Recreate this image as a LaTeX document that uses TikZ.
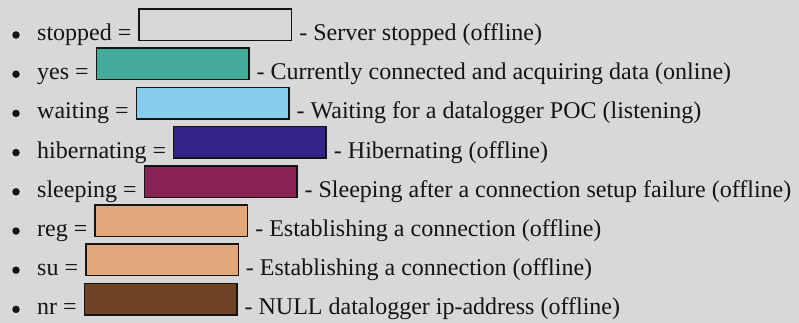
\documentclass[tikz,border=0pt]{standalone}
\usepackage{fontspec}
\setmainfont{Liberation Serif}
\usepackage{tikz}
\usetikzlibrary{
    positioning
}
\definecolor{PageGrey}{RGB}{216,216,216}
\definecolor{InkBlack}{RGB}{20,20,20}
\definecolor{StateYes}{HTML}{44AA99}
\definecolor{StateWaiting}{HTML}{88CCEE}
\definecolor{StateHibernating}{HTML}{332288}
\definecolor{StateSleeping}{HTML}{882255}
\definecolor{StateSetup}{HTML}{E2A87A}
\definecolor{StateNull}{HTML}{6E4424}

\begin{document}
\begin{tikzpicture}[
    x=1pt, y=-1pt,
    statename/.style={inner sep=0pt, anchor=base west, text=InkBlack, font=\fontsize{24pt}{29pt}\selectfont},
    note/.style={inner sep=0pt, anchor=base west, xshift=6.75pt, text=InkBlack, font=\fontsize{24pt}{29pt}\selectfont},
    swatch/.style={rectangle, draw=InkBlack, line width=1.5pt, minimum width=152.5pt, minimum height=31.5pt, inner sep=0pt, anchor=south west, xshift=6.75pt, yshift=-0.75pt},
    dot/.style={circle, fill=InkBlack, inner sep=0pt, minimum size=7.5pt}
]
\fill[PageGrey] (0,0) rectangle (799,323);
\useasboundingbox (0,0) rectangle (799,323);

% stopped
\node[dot] (b1) at (16,35) {};
\node[statename] (n1) at (37,40.5) {stopped =};
\node[swatch] (s1) at (n1.base east) {};
\node[note] (d1) at (s1.east |- n1.base) {- Server stopped (offline)};

% yes
\node[dot] (b2) at (16,74.2) {};
\node[statename] (n2) at (37,79.7) {yes =};
\node[swatch, fill=StateYes] (s2) at (n2.base east) {};
\node[note] (d2) at (s2.east |- n2.base) {- Currently connected and acquiring data (online)};

% waiting
\node[dot] (b3) at (16,113.4) {};
\node[statename] (n3) at (37,118.9) {waiting =};
\node[swatch, fill=StateWaiting] (s3) at (n3.base east) {};
\node[note] (d3) at (s3.east |- n3.base) {- Waiting for a datalogger POC (listening)};

% hibernating
\node[dot] (b4) at (16,152.6) {};
\node[statename] (n4) at (37,158.1) {hibernating =};
\node[swatch, fill=StateHibernating] (s4) at (n4.base east) {};
\node[note] (d4) at (s4.east |- n4.base) {- Hibernating (offline)};

% sleeping
\node[dot] (b5) at (16,191.8) {};
\node[statename] (n5) at (37,197.3) {sleeping =};
\node[swatch, fill=StateSleeping] (s5) at (n5.base east) {};
\node[note] (d5) at (s5.east |- n5.base) {- Sleeping after a connection setup failure (offline)};

% reg
\node[dot] (b6) at (16,231) {};
\node[statename] (n6) at (37,236.5) {reg =};
\node[swatch, fill=StateSetup] (s6) at (n6.base east) {};
\node[note] (d6) at (s6.east |- n6.base) {- Establishing a connection (offline)};

% su
\node[dot] (b7) at (16,270.2) {};
\node[statename] (n7) at (37,275.7) {su =};
\node[swatch, fill=StateSetup] (s7) at (n7.base east) {};
\node[note] (d7) at (s7.east |- n7.base) {- Establishing a connection (offline)};

% nr
\node[dot] (b8) at (16,309.4) {};
\node[statename] (n8) at (37,314.9) {nr =};
\node[swatch, fill=StateNull] (s8) at (n8.base east) {};
\node[note] (d8) at (s8.east |- n8.base) {- NULL datalogger ip-address (offline)};
\end{tikzpicture}
\end{document}
